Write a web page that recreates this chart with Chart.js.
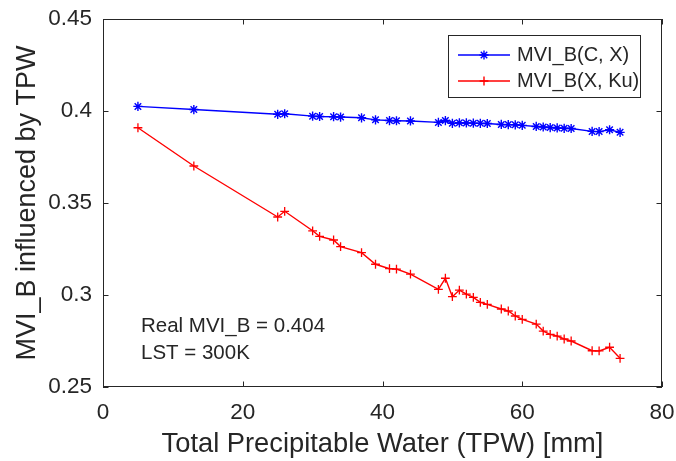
<!DOCTYPE html>
<html>
<head>
<meta charset="utf-8">
<script src="https://cdn.jsdelivr.net/npm/chart.js@4.4.0/dist/chart.umd.min.js"></script>
<style>
html, body { margin: 0; padding: 0; background: #fff; }
#wrap { width: 676px; height: 461px; }
</style>
</head>
<body>
<div id="wrap"><canvas id="mviChart" width="676" height="461"></canvas></div>
<script>
// TPW values (mm) shared by both series
const tpw = [5, 13, 25, 26, 30, 31, 33, 34, 37, 39, 41, 42, 44, 48, 49, 50, 51, 52, 53, 54, 55,
             57, 58, 59, 60, 62, 63, 64, 65, 66, 67, 70, 71, 72.5, 74];
const mviCX = [0.4025, 0.4008, 0.3982, 0.3985, 0.3972, 0.3970, 0.3969, 0.3967, 0.3963, 0.3952,
               0.3948, 0.3947, 0.3946, 0.3938, 0.3948, 0.3933, 0.3936, 0.3935, 0.3934, 0.3933,
               0.3932, 0.3927, 0.3926, 0.3925, 0.3922, 0.3916, 0.3913, 0.3910, 0.3908, 0.3906,
               0.3905, 0.3889, 0.3888, 0.3898, 0.3884];
const mviXKu = [0.3909, 0.3701, 0.3424, 0.3455, 0.3349, 0.3319, 0.3299, 0.3263, 0.3230, 0.3167,
                0.3143, 0.3141, 0.3113, 0.3031, 0.3091, 0.2991, 0.3027, 0.3005, 0.2987, 0.2960,
                0.2949, 0.2924, 0.2913, 0.2886, 0.2868, 0.2842, 0.2804, 0.2786, 0.2777, 0.2761,
                0.2750, 0.2697, 0.2696, 0.2716, 0.2656];
const xTicks = [0, 20, 40, 60, 80];
const yTicks = [0.25, 0.3, 0.35, 0.4, 0.45];
const seriesNames = ["MVI_B(C, X)", "MVI_B(X, Ku)"];
const noteLines = ["Real MVI_B = 0.404", "LST = 300K"];

const FONT = "'Liberation Sans', Arial, sans-serif";
const INK = "#262626";

const toPoints = (ys) => tpw.map((x, i) => ({ x: x, y: ys[i] }));

// axes box with inward ticks, like matlab
const boxPlugin = {
    id: "boxAxes",
    afterDatasetsDraw(chart) {
        const { ctx, chartArea: a, scales } = chart;
        const len = 5.5;
        ctx.save();
        ctx.strokeStyle = INK;
        ctx.lineWidth = 1;
        ctx.strokeRect(a.left + 0.5, a.top + 0.5, a.right - a.left - 1, a.bottom - a.top - 1);
        ctx.beginPath();
        xTicks.forEach(v => {
            const px = Math.round(scales.x.getPixelForValue(v)) + 0.5;
            ctx.moveTo(px, a.bottom); ctx.lineTo(px, a.bottom - len);
            ctx.moveTo(px, a.top); ctx.lineTo(px, a.top + len);
        });
        yTicks.forEach(v => {
            const py = Math.round(scales.y.getPixelForValue(v)) + 0.5;
            ctx.moveTo(a.left, py); ctx.lineTo(a.left + len, py);
            ctx.moveTo(a.right, py); ctx.lineTo(a.right - len, py);
        });
        ctx.stroke();
        ctx.restore();
    }
};

// legend box in the upper right + the text note
const legendPlugin = {
    id: "boxLegend",
    afterDraw(chart) {
        const { ctx, chartArea: a } = chart;
        const w = 192, h = 62;
        const right = a.right - 22, top = a.top + 16;
        const left = right - w;
        ctx.save();
        ctx.fillStyle = "#fff";
        ctx.fillRect(left, top, w, h);
        ctx.strokeStyle = INK;
        ctx.lineWidth = 1;
        ctx.strokeRect(left + 0.5, top + 0.5, w, h);
        ctx.font = "20px " + FONT;
        ctx.textBaseline = "middle";
        chart.data.datasets.forEach((ds, i) => {
            const y = top + 20 + i * 26;
            ctx.strokeStyle = ds.borderColor;
            ctx.lineWidth = ds.borderWidth;
            ctx.beginPath();
            ctx.moveTo(left + 10, y);
            ctx.lineTo(left + 62, y);
            ctx.stroke();
            Chart.helpers.drawPoint(ctx, {
                pointStyle: ds.pointStyle, radius: ds.pointRadius,
                borderWidth: ds.pointBorderWidth, rotation: 0
            }, left + 36, y);
            ctx.fillStyle = INK;
            ctx.fillText(ds.label, left + 69, y);
        });

        ctx.font = "20.5px " + FONT;
        ctx.fillStyle = INK;
        ctx.textBaseline = "alphabetic";
        noteLines.forEach((t, i) => {
            ctx.fillText(t, a.left + 38, a.top + 313 + i * 27);
        });
        ctx.restore();
    }
};

const ctx = document.getElementById("mviChart").getContext("2d");
const chart = new Chart(ctx, {
    type: "scatter",
    data: {
        datasets: [
            {
                label: seriesNames[0],
                data: toPoints(mviCX),
                showLine: true,
                borderColor: "#0000ff",
                backgroundColor: "#0000ff",
                borderWidth: 1.4,
                pointStyle: "star",
                pointRadius: 4.6,
                pointBorderWidth: 1.4,
                pointHoverRadius: 4.6,
            },
            {
                label: seriesNames[1],
                data: toPoints(mviXKu),
                showLine: true,
                borderColor: "#ff0000",
                backgroundColor: "#ff0000",
                borderWidth: 1.4,
                pointStyle: "cross",
                pointRadius: 4.4,
                pointBorderWidth: 1.3,
                pointHoverRadius: 4.4,
            },
        ],
    },
    options: {
        responsive: false,
        animation: false,
        devicePixelRatio: 1,
        layout: { padding: { left: 0, top: 19, right: 14, bottom: 0 } },
        plugins: {
            legend: { display: false },
            tooltip: { enabled: false },
        },
        scales: {
            x: {
                type: "linear",
                min: 0,
                max: 80,
                afterBuildTicks: s => { s.ticks = xTicks.map(v => ({ value: v })); },
                afterFit: s => { s.height = 74; s.paddingLeft = 0; s.paddingRight = 0; },
                grid: { display: false, drawTicks: false },
                border: { display: false },
                ticks: { color: INK, padding: 12, font: { family: FONT, size: 22.5 } },
                title: {
                    display: true,
                    text: "Total Precipitable Water (TPW) [mm]",
                    color: INK,
                    padding: { top: 0, bottom: 0 },
                    font: { family: FONT, size: 27.3 },
                },
            },
            y: {
                type: "linear",
                min: 0.25,
                max: 0.45,
                afterBuildTicks: s => { s.ticks = yTicks.map(v => ({ value: v })); },
                afterFit: s => { s.width = 103; s.paddingTop = 0; s.paddingBottom = 0; },
                grid: { display: false, drawTicks: false },
                border: { display: false },
                ticks: {
                    color: INK, padding: 11, font: { family: FONT, size: 22.5 },
                    callback: v => String(+v.toFixed(2)),
                },
                title: {
                    display: true,
                    text: "MVI_B influenced by TPW",
                    color: INK,
                    padding: { top: 11, bottom: 0 },
                    font: { family: FONT, size: 27 },
                },
            },
        },
    },
    plugins: [boxPlugin, legendPlugin],
});
</script>
</body>
</html>
